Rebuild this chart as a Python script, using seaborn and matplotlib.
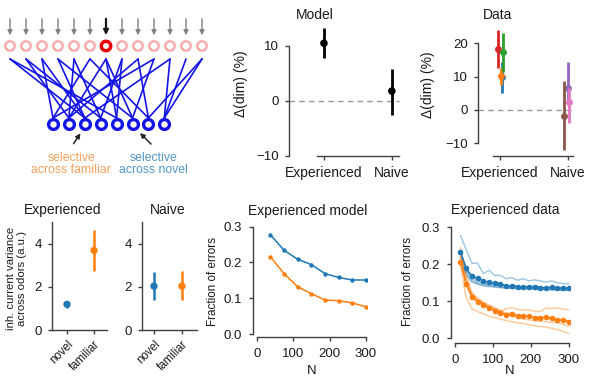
import numpy as np
import matplotlib
matplotlib.use("Agg")
import matplotlib.pyplot as plt
import seaborn as sns

# ---- data ----
# network diagram
n_top = 13
n_bottom = 8
active_top = 6
connections = [(0, 2), (0, 4), (1, 1), (1, 3), (2, 0), (2, 2), (3, 2), (3, 5),
               (4, 1), (4, 3), (5, 0), (5, 6), (6, 1), (6, 4), (6, 5), (7, 3),
               (7, 4), (8, 1), (8, 6), (9, 0), (9, 5), (10, 2), (10, 7),
               (11, 7), (12, 6), (12, 7)]

# dimensionality change
groups = ['Experienced', 'Naive']
model_mean = [10.5, 1.8]
model_low = [7.8, -2.5]
model_high = [13.2, 5.9]

data_colors = ['tab:blue', 'tab:orange', 'tab:red', 'tab:green',
               'tab:purple', 'tab:pink', 'tab:brown']
data_group = [0, 0, 0, 0, 1, 1, 1]
data_jitter = [0.025, 0.01, -0.025, 0.05, 0.01, 0.02, -0.05]
data_mean = [10.0, 10.2, 18.3, 17.3, 6.5, 2.5, -1.7]
data_low = [5.2, 7.5, 12.5, 11.5, 1.5, -4.0, -12.0]
data_high = [14.5, 12.5, 24.0, 23.2, 14.3, 6.5, 8.7]

# inhibitory current variance
var_cats = ['novel', 'familiar']
exp_var_mean = [1.2, 3.69]
exp_var_low = [1.02, 2.75]
exp_var_high = [1.36, 4.65]
naive_var_mean = [2.04, 2.04]
naive_var_low = [1.41, 1.41]
naive_var_high = [2.67, 2.72]

# fraction of errors, model
model_N = [37.5, 75, 112.5, 150, 187.5, 225, 262.5, 300]
model_novel = [0.278, 0.234, 0.209, 0.194, 0.169, 0.158, 0.151, 0.151]
model_familiar = [0.216, 0.169, 0.132, 0.113, 0.095, 0.093, 0.087, 0.076]

# fraction of errors, data
data_N = [15, 30, 45, 60, 75, 90, 105, 120, 135, 150,
          165, 180, 195, 210, 225, 240, 255, 270, 285, 300]
novel_mean = [0.234, 0.189, 0.168, 0.162, 0.156, 0.151, 0.150, 0.147, 0.142, 0.141,
              0.140, 0.138, 0.140, 0.140, 0.137, 0.137, 0.138, 0.135, 0.137, 0.135]
familiar_mean = [0.207, 0.146, 0.111, 0.099, 0.090, 0.081, 0.075, 0.069, 0.063, 0.065,
                 0.060, 0.060, 0.059, 0.056, 0.056, 0.057, 0.054, 0.050, 0.050, 0.045]
novel_single = [
    [0.278, 0.240, 0.203, 0.203, 0.175, 0.184, 0.170, 0.170, 0.161, 0.164,
     0.157, 0.161, 0.155, 0.158, 0.155, 0.152, 0.155, 0.150, 0.148, 0.147],
    [0.230, 0.180, 0.160, 0.152, 0.148, 0.145, 0.143, 0.141, 0.139, 0.138,
     0.137, 0.136, 0.136, 0.135, 0.134, 0.134, 0.133, 0.133, 0.132, 0.131],
    [0.220, 0.175, 0.155, 0.148, 0.144, 0.142, 0.140, 0.138, 0.136, 0.135,
     0.134, 0.134, 0.133, 0.132, 0.132, 0.131, 0.131, 0.130, 0.130, 0.129],
    [0.235, 0.185, 0.165, 0.156, 0.150, 0.148, 0.146, 0.144, 0.142, 0.141,
     0.140, 0.139, 0.139, 0.138, 0.137, 0.137, 0.136, 0.136, 0.135, 0.135],
    [0.210, 0.170, 0.152, 0.146, 0.142, 0.140, 0.138, 0.137, 0.136, 0.135,
     0.135, 0.134, 0.134, 0.133, 0.133, 0.132, 0.132, 0.131, 0.131, 0.130],
]
familiar_single = [
    [0.245, 0.170, 0.120, 0.105, 0.095, 0.085, 0.078, 0.072, 0.080, 0.083,
     0.078, 0.076, 0.076, 0.073, 0.072, 0.082, 0.080, 0.082, 0.079, 0.077],
    [0.200, 0.110, 0.080, 0.072, 0.066, 0.060, 0.056, 0.052, 0.048, 0.045,
     0.042, 0.040, 0.037, 0.034, 0.032, 0.030, 0.027, 0.024, 0.019, 0.013],
    [0.230, 0.150, 0.115, 0.100, 0.092, 0.083, 0.077, 0.070, 0.062, 0.060,
     0.056, 0.052, 0.050, 0.048, 0.046, 0.045, 0.043, 0.042, 0.038, 0.032],
    [0.210, 0.160, 0.125, 0.108, 0.098, 0.090, 0.083, 0.076, 0.068, 0.068,
     0.063, 0.062, 0.060, 0.058, 0.057, 0.056, 0.054, 0.052, 0.050, 0.047],
    [0.220, 0.145, 0.118, 0.104, 0.094, 0.085, 0.080, 0.072, 0.066, 0.065,
     0.062, 0.060, 0.058, 0.055, 0.055, 0.053, 0.052, 0.048, 0.046, 0.042],
]

BLUE = '#1f77b4'
ORANGE = '#ff7f0e'

sns.set_theme(style='ticks')
plt.rcParams['font.family'] = ['Liberation Sans', 'DejaVu Sans']
plt.rcParams['axes.unicode_minus'] = True

W, H = 591, 379
fig = plt.figure(figsize=(W / 100, H / 100), dpi=100)


def add_ax(l, t, r, b):
    return fig.add_axes([l / W, 1 - b / H, (r - l) / W, (b - t) / H])


def ftext(x, y, s, **kw):
    kw.setdefault('ha', 'center')
    kw.setdefault('va', 'center')
    kw.setdefault('color', '0.1')
    fig.text(x / W, 1 - y / H, s, **kw)


def style(ax):
    for s in ['top', 'right']:
        ax.spines[s].set_visible(False)
    for s in ['left', 'bottom']:
        ax.spines[s].set_color('0.25')
        ax.spines[s].set_linewidth(1.0)
    ax.tick_params(length=3, width=1, color='0.25', labelsize=9.5, pad=4.5,
                   labelcolor='0.1')


# ---- network diagram ----
ax = add_ax(0, 0, 220, 190)
ax.set_xlim(0, 220)
ax.set_ylim(190, 0)
ax.axis('off')
top_x = [10 + 16 * i for i in range(n_top)]
bot_x = [53 + 15.9 * i for i in range(n_bottom)]
for t, b in connections:
    ax.plot([top_x[t], bot_x[b]], [59, 118], color='#1414e6', lw=1.2, zorder=1)
for i, x in enumerate(top_x):
    act = i == active_top
    ax.annotate('', xy=(x, 38), xytext=(x, 16),
                arrowprops=dict(arrowstyle='-|>', color='0.1' if act else '0.5',
                                lw=1.6 if act else 1.0, mutation_scale=7))
ax.scatter(top_x, [46] * n_top, s=46, facecolor='white',
           edgecolor=['#e60000' if i == active_top else '#f7a8a8' for i in range(n_top)],
           linewidth=[2.5 if i == active_top else 1.7 for i in range(n_top)], zorder=3)
ax.scatter(bot_x, [124] * n_bottom, s=50, facecolor='white', edgecolor='#1414e6',
           linewidth=2.4, zorder=3)
ax.annotate('', xy=(82, 131), xytext=(72, 146),
            arrowprops=dict(arrowstyle='-|>', color='0.15', lw=1.1, mutation_scale=7))
ax.annotate('', xy=(138, 131), xytext=(153, 146),
            arrowprops=dict(arrowstyle='-|>', color='0.15', lw=1.1, mutation_scale=7))
ax.text(71, 164, 'selective\nacross familiar', ha='center', va='center',
        color='#f5a05a', fontsize=8.8, linespacing=1.0)
ax.text(153, 164, 'selective\nacross novel', ha='center', va='center',
        color='#5196c8', fontsize=8.8, linespacing=1.0)

# ---- model dimensionality ----
ax = add_ax(289.3, 28, 400, 156)
style(ax)
ax.set_xlim(-0.51, 1.12)
ax.set_ylim(-10, 13.27)
ax.plot([-0.51, 1.1], [0, 0], ls='--', dashes=(4, 3), color='0.6', lw=1)
ax.vlines(range(len(groups)), model_low, model_high, color='black', lw=2, clip_on=False)
sns.scatterplot(x=list(range(len(groups))), y=model_mean, color='black', s=30,
                edgecolor='none', ax=ax, clip_on=False, zorder=3)
ax.set_yticks([-10, 0, 10])
ax.set_xticks(range(len(groups)))
ax.set_xticklabels(groups, fontsize=10)
ax.spines['left'].set_bounds(-10, 10)
ax.spines['bottom'].set_bounds(-0.1, 1.1)
ftext(315, 15, 'Model', fontsize=10)
ftext(241.5, 84, 'Δ(dim) (%)', rotation=90, fontsize=10)

# ---- data dimensionality ----
ax = add_ax(478.3, 28, 580, 156)
style(ax)
ax.set_xlim(-0.32, 1.18)
ax.set_ylim(-13.8, 24.6)
ax.plot([-0.32, 1.08], [0, 0], ls='--', dashes=(4, 3), color='0.6', lw=1)
for g, j, m, lo, hi, c in zip(data_group, data_jitter, data_mean, data_low,
                              data_high, data_colors):
    ax.vlines(g + j, lo, hi, color=c, lw=2, clip_on=False)
    ax.plot(g + j, m, 'o', color=c, ms=5, mec='none', clip_on=False)
ax.set_yticks([-10, 0, 10, 20])
ax.set_xticks(range(len(groups)))
ax.set_xticklabels(groups, fontsize=10)
ax.spines['left'].set_bounds(-10, 20)
ax.spines['bottom'].set_bounds(-0.1, 1.08)
ftext(498, 15, 'Data', fontsize=10)
ftext(428, 85, 'Δ(dim) (%)', rotation=90, fontsize=10)

# ---- inhibitory current variance ----
for (l, r, x0, x1), means, lows, highs, title, tx in [
        ((52, 107, -0.556, 1.48), exp_var_mean, exp_var_low, exp_var_high, 'Experienced', 63),
        ((142, 197, -0.43, 1.54), naive_var_mean, naive_var_low, naive_var_high, 'Naive', 168)]:
    ax = add_ax(l, 222, r, 330.3)
    style(ax)
    ax.set_xlim(x0, x1)
    ax.set_ylim(0, 5)
    pos = list(range(len(var_cats)))
    ax.vlines(pos, lows, highs, color=[BLUE, ORANGE], lw=1.8)
    sns.scatterplot(x=pos, y=means, hue=var_cats, palette=[BLUE, ORANGE], s=28,
                    edgecolor='none', legend=False, ax=ax, zorder=3)
    ax.set_yticks([0, 2, 4])
    ax.set_xticks(pos)
    ax.set_xticklabels(var_cats, rotation=45, ha='right', rotation_mode='anchor',
                       fontsize=8.3)
    ax.tick_params(axis='x', pad=3)
    ftext(tx, 210, title, fontsize=10)
ftext(16.5, 278, 'inh. current variance\nacross odors (a.u.)', rotation=90,
      fontsize=8.2, linespacing=1.05)

# ---- fraction of errors, model ----
ax = add_ax(252.7, 226.7, 367, 337.3)
style(ax)
ax.set_xlim(-11, 303)
ax.set_ylim(-0.0092, 0.3)
sns.lineplot(x=model_N, y=model_novel, color=BLUE, lw=1.1, marker='o', ms=3.2,
             mec='none', ax=ax)
sns.lineplot(x=model_N, y=model_familiar, color=ORANGE, lw=1.1, marker='o', ms=3.2,
             mec='none', ax=ax)
ax.set_xticks([0, 100, 200, 300])
ax.set_yticks([0, 0.1, 0.2, 0.3])
ax.set_yticklabels(['0.0', '0.1', '0.2', '0.3'])
ax.set_xlabel('')
ax.set_ylabel('')
ax.spines['left'].set_bounds(0, 0.3)
ax.spines['bottom'].set_bounds(0, 300)
ftext(308, 211, 'Experienced model', fontsize=10)
ftext(213.3, 281, 'Fraction of errors', rotation=90, fontsize=8.4)
ftext(311.7, 371.5, 'N', fontsize=9.5)

# ---- fraction of errors, data ----
ax = add_ax(450.7, 227.3, 570, 343.3)
style(ax)
ax.set_xlim(-10.7, 303)
ax.set_ylim(-0.0135, 0.3)
for line in novel_single:
    sns.lineplot(x=data_N, y=line, color=BLUE, alpha=0.4, lw=1.1, ax=ax)
for line in familiar_single:
    sns.lineplot(x=data_N, y=line, color=ORANGE, alpha=0.4, lw=1.1, ax=ax)
sns.lineplot(x=data_N, y=novel_mean, color=BLUE, lw=1.1, marker='o', ms=4,
             mec='none', ax=ax)
sns.lineplot(x=data_N, y=familiar_mean, color=ORANGE, lw=1.1, marker='o', ms=4,
             mec='none', ax=ax)
ax.set_xticks([0, 100, 200, 300])
ax.set_yticks([0, 0.1, 0.2, 0.3])
ax.set_yticklabels(['0.0', '0.1', '0.2', '0.3'])
ax.set_xlabel('')
ax.set_ylabel('')
ax.spines['left'].set_bounds(0, 0.3)
ax.spines['bottom'].set_bounds(0, 300)
ftext(505.5, 210, 'Experienced data', fontsize=10)
ftext(408, 281.5, 'Fraction of errors', rotation=90, fontsize=8.4)
ftext(510, 371.5, 'N', fontsize=9.5)

fig.savefig('out.png', dpi=100)
